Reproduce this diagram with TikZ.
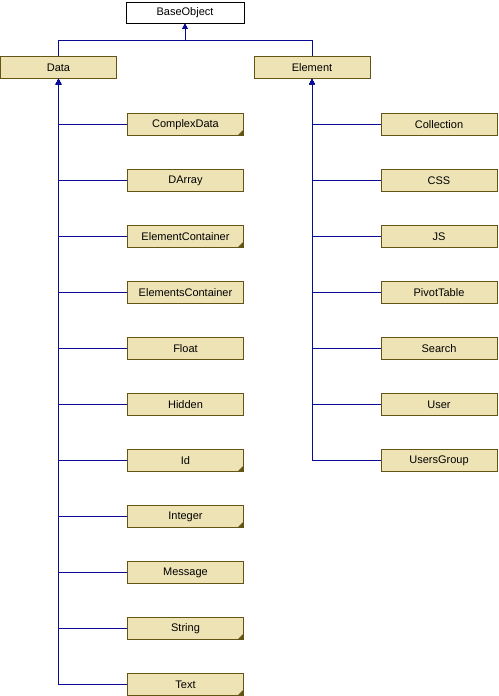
\documentclass[tikz,border=0pt]{standalone}
\usepackage{fontspec}
\setmainfont{Liberation Sans}
\usepackage{xcolor}
\usepackage{tikz}
\usetikzlibrary{arrows.meta}
\definecolor{clsfill}{RGB}{238,227,181}
\definecolor{clsline}{RGB}{100,84,22}
\definecolor{inhline}{RGB}{10,10,150}
\tikzset{
    clsnode/.style = {rectangle, align=center, inner sep=0pt, draw=clsline, fill=clsfill, line width=0.8pt, minimum width=116pt, minimum height=22pt, font=\fontsize{11}{13}\selectfont},
    root_node/.style = {clsnode, draw=black, fill=white, minimum width=118pt, minimum height=21pt},
    part_node/.style = {clsnode, path picture={\fill[clsline] (path picture bounding box.south east) -- ++(-6pt,0pt) -- ++(6pt,6pt) -- cycle;}},
    inh/.style = {draw=inhline, line width=0.8pt, -{Triangle[width=5.5pt,length=5.5pt]}}
}

\begin{document}
\begin{tikzpicture}[x=1pt, y=-1pt]
            \useasboundingbox (0,0) rectangle (498,696);

            \node [root_node] (base) at (185,12.5) {BaseObject};
            \node [clsnode] (data) at (58.5,67.5) {Data};
            \node [clsnode] (element) at (312,67.5) {Element};
            \coordinate (bus) at (185,40);

            % Data subclasses
            \node [part_node] (complexdata) at (185.5,124.5) {ComplexData};
            \node [clsnode] (darray) at (185.5,180.5) {DArray};
            \node [part_node] (elementcontainer) at (185.5,236.5) {ElementContainer};
            \node [clsnode] (elementscontainer) at (185.5,292.5) {ElementsContainer};
            \node [clsnode] (float) at (185.5,348.5) {Float};
            \node [clsnode] (hidden) at (185.5,404.5) {Hidden};
            \node [part_node] (id) at (185.5,460.5) {Id};
            \node [part_node] (integer) at (185.5,516.5) {Integer};
            \node [clsnode] (message) at (185.5,572.5) {Message};
            \node [part_node] (string) at (185.5,628.5) {String};
            \node [part_node] (text) at (185.5,684.5) {Text};

            % Element subclasses
            \node [clsnode] (collection) at (439,124.5) {Collection};
            \node [clsnode] (css) at (439,180.5) {CSS};
            \node [clsnode] (js) at (439,236.5) {JS};
            \node [clsnode] (pivottable) at (439,292.5) {PivotTable};
            \node [clsnode] (search) at (439,348.5) {Search};
            \node [clsnode] (user) at (439,404.5) {User};
            \node [clsnode] (usersgroup) at (439,460.5) {UsersGroup};

            \draw [inh] (data.north) |- (bus) -- (base.south);
            \draw [inh] (element.north) |- (bus) -- (base.south);

            \draw [inh] (complexdata.west) -| (data.south);
            \draw [inh] (darray.west) -| (data.south);
            \draw [inh] (elementcontainer.west) -| (data.south);
            \draw [inh] (elementscontainer.west) -| (data.south);
            \draw [inh] (float.west) -| (data.south);
            \draw [inh] (hidden.west) -| (data.south);
            \draw [inh] (id.west) -| (data.south);
            \draw [inh] (integer.west) -| (data.south);
            \draw [inh] (message.west) -| (data.south);
            \draw [inh] (string.west) -| (data.south);
            \draw [inh] (text.west) -| (data.south);

            \draw [inh] (collection.west) -| (element.south);
            \draw [inh] (css.west) -| (element.south);
            \draw [inh] (js.west) -| (element.south);
            \draw [inh] (pivottable.west) -| (element.south);
            \draw [inh] (search.west) -| (element.south);
            \draw [inh] (user.west) -| (element.south);
            \draw [inh] (usersgroup.west) -| (element.south);
\end{tikzpicture}
\end{document}
